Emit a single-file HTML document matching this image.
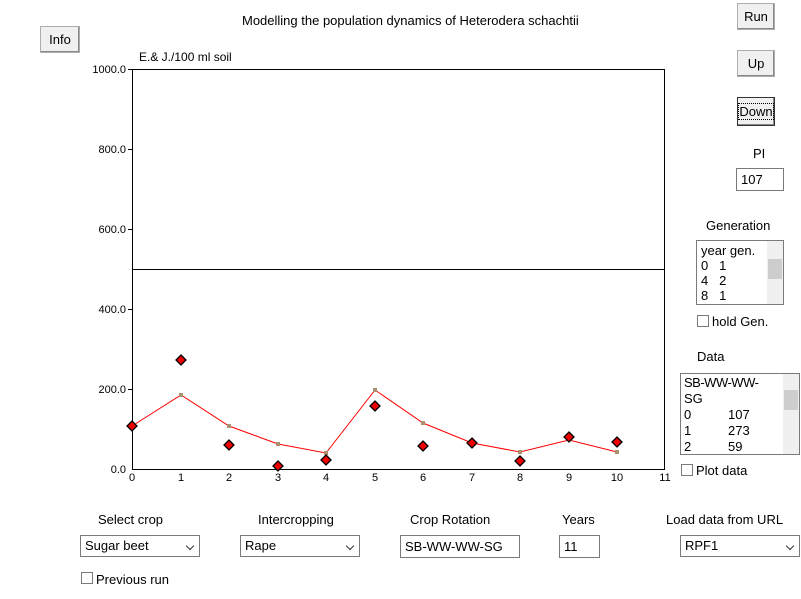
<!DOCTYPE html>
<html><head><style>
body{margin:0;width:801px;height:599px;background:#fff;font-family:"Liberation Sans",sans-serif;font-size:12px;position:relative;overflow:hidden}
.a{position:absolute}
.btn{position:absolute;background:#f0f0f0;border:1px solid #adadad;box-shadow:inset -1px -1px 0 #888;text-align:center;font-size:13px}
.box{position:absolute;border:1px solid #7a7a7a;background:#fff;font-size:13px;padding-left:4px;box-sizing:border-box;overflow:hidden}
.sel{position:absolute;border:1px solid #7a7a7a;background:#fff;font-size:13px;padding-left:4px;box-sizing:border-box}
.sel:after{content:"";position:absolute;right:6px;top:7px;width:5px;height:5px;border-right:1px solid #333;border-bottom:1px solid #333;transform:rotate(45deg)}
.cb{position:absolute;width:10px;height:10px;border:1px solid #7a7a7a;background:#fff}
.lbl{position:absolute;font-size:13px}
.sb{position:absolute;right:0;top:0;bottom:0;width:16px;background:#f0f0f0}
.sb i{position:absolute;left:1px;width:14px;height:20px;background:#cdcdcd;top:18px}
</style></head><body>
<div class="a" style="left:242px;top:13px;font-size:13px">Modelling the population dynamics of Heterodera schachtii</div>
<div class="btn" style="left:40px;top:26px;width:38px;height:25px;line-height:25px">Info</div>
<div class="btn" style="left:737px;top:3px;width:36px;height:25px;line-height:25px">Run</div>
<div class="btn" style="left:737px;top:50px;width:36px;height:25px;line-height:25px">Up</div>
<div class="btn" style="left:737px;top:97px;width:36px;height:27px;line-height:27px;border-color:#333"><span style="outline:1px dotted #000">Down</span></div>
<div class="lbl" style="left:753px;top:146px">PI</div>
<div class="box" style="left:736px;top:168px;width:48px;height:23px;line-height:21px">107</div>
<div class="lbl" style="left:706px;top:218px">Generation</div>
<div class="box" style="left:696px;top:240px;width:88px;height:65px;line-height:15px;padding-top:2px">year gen.<br>0&nbsp;&nbsp;&nbsp;1<br>4&nbsp;&nbsp;&nbsp;2<br>8&nbsp;&nbsp;&nbsp;1<div class="sb"><i></i></div></div>
<div class="cb" style="left:697px;top:315px"></div><div class="lbl" style="left:712px;top:314px">hold Gen.</div>
<div class="lbl" style="left:697px;top:349px">Data</div>
<div class="box" style="left:680px;top:373px;width:120px;height:82px;line-height:16px;padding-top:1px;padding-left:3px"><span style="letter-spacing:-0.5px">SB-WW-WW-</span><br>SG<br>0<span class="a" style="left:47px">107</span><br>1<span class="a" style="left:47px">273</span><br>2<span class="a" style="left:47px">59</span><div class="sb" style="background:#f0f0f0"><i style="top:16px"></i></div></div>
<div class="cb" style="left:681px;top:464px"></div><div class="lbl" style="left:696px;top:463px">Plot data</div>

<svg class="a" style="left:0;top:0" width="801" height="599" font-family="Liberation Sans,sans-serif" font-size="11">
<text x="139" y="61" font-size="12">E.&amp; J./100 ml soil</text>
<rect x="132.5" y="69.5" width="532" height="400" fill="none" stroke="#000"/>
<line x1="132" y1="269.5" x2="665" y2="269.5" stroke="#000"/>
<g text-anchor="end">
<text x="126" y="73">1000.0</text><text x="126" y="153">800.0</text><text x="126" y="233">600.0</text><text x="126" y="313">400.0</text><text x="126" y="393">200.0</text><text x="126" y="473">0.0</text>
</g>
<g stroke="#000"><line x1="128" y1="69.5" x2="132" y2="69.5"/><line x1="128" y1="149.5" x2="132" y2="149.5"/><line x1="128" y1="229.5" x2="132" y2="229.5"/><line x1="128" y1="309.5" x2="132" y2="309.5"/><line x1="128" y1="389.5" x2="132" y2="389.5"/></g>
<g text-anchor="middle">
<text x="132" y="481">0</text><text x="181" y="481">1</text><text x="229" y="481">2</text><text x="278" y="481">3</text><text x="326" y="481">4</text><text x="375" y="481">5</text><text x="423" y="481">6</text><text x="472" y="481">7</text><text x="520" y="481">8</text><text x="569" y="481">9</text><text x="617" y="481">10</text><text x="665" y="481">11</text>
</g>
<polyline fill="none" stroke="#f00" points="132,426 181,395 229,426 278,444 326,453 375,390 423,423 472,443 520,452 569,440 617,452"/>
<g fill="#a89070"><rect x="179" y="393" width="4" height="4"/><rect x="227" y="424" width="4" height="4"/><rect x="276" y="442" width="4" height="4"/><rect x="324" y="451" width="4" height="4"/><rect x="373" y="388" width="4" height="4"/><rect x="421" y="421" width="4" height="4"/><rect x="518" y="450" width="4" height="4"/><rect x="615" y="450" width="4" height="4"/></g>
<g fill="#e00" stroke="#000" stroke-width="1.3">
<path d="M132 421l5 5-5 5-5-5z"/><path d="M181 355l5 5-5 5-5-5z"/><path d="M229 440l5 5-5 5-5-5z"/><path d="M278 461l5 5-5 5-5-5z"/><path d="M326 455l5 5-5 5-5-5z"/><path d="M375 401l5 5-5 5-5-5z"/><path d="M423 441l5 5-5 5-5-5z"/><path d="M472 438l5 5-5 5-5-5z"/><path d="M520 456l5 5-5 5-5-5z"/><path d="M569 432l5 5-5 5-5-5z"/><path d="M617 437l5 5-5 5-5-5z"/>
</g>
</svg>

<div class="lbl" style="left:98px;top:512px">Select crop</div>
<div class="sel" style="left:80px;top:535px;width:120px;height:22px;line-height:20px">Sugar beet</div>
<div class="lbl" style="left:258px;top:512px">Intercropping</div>
<div class="sel" style="left:240px;top:535px;width:120px;height:22px;line-height:20px">Rape</div>
<div class="lbl" style="left:410px;top:512px">Crop Rotation</div>
<div class="box" style="left:400px;top:535px;width:120px;height:23px;line-height:21px">SB-WW-WW-SG</div>
<div class="lbl" style="left:562px;top:512px">Years</div>
<div class="box" style="left:559px;top:535px;width:41px;height:23px;line-height:21px">11</div>
<div class="lbl" style="left:666px;top:512px">Load data from URL</div>
<div class="sel" style="left:680px;top:535px;width:120px;height:22px;line-height:20px">RPF1</div>
<div class="cb" style="left:81px;top:572px"></div><div class="lbl" style="left:96px;top:572px">Previous run</div>
</body></html>
